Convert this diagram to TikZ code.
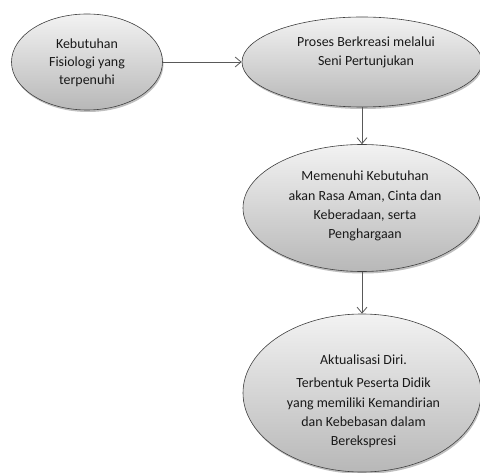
\documentclass[tikz,border=0pt]{standalone}
\usepackage{fontspec}
\setmainfont{Carlito}
\usetikzlibrary{shapes.geometric,arrows.meta,shadows}
\begin{document}
\begin{tikzpicture}[x=1bp,y=-1bp,
  bubble/.style={ellipse, draw=black!75, line width=0.6bp,
    top color=black!5, bottom color=black!28,
    drop shadow={shadow xshift=1bp, shadow yshift=-2bp, opacity=0.25, fill=black},
    inner sep=0pt},
  bubbletext/.style={inner sep=0pt, align=center, text=black!90,
    font=\fontsize{14}{19.3}\selectfont},
  link/.style={draw=black!65, line width=0.8bp, -{Straight Barb[length=6bp,width=10bp]}}]
\useasboundingbox (0,0) rectangle (480,473);
\node[bubble, minimum width=151bp, minimum height=96bp] (a) at (87,62) {};
\node[bubble, minimum width=240bp, minimum height=90bp] (b) at (362,62) {};
\node[bubble, minimum width=238bp, minimum height=127bp] (c) at (362,208) {};
\node[bubble, minimum width=238bp, minimum height=158bp] (d) at (362,393) {};
\node[bubbletext, font=\fontsize{14}{18}\selectfont] (at) at (87,63)
  {Kebutuhan\\Fisiologi yang\\terpenuhi};
\node[bubbletext] (bt) at (366,52.5)
  {Proses Berkreasi melalui\\Seni Pertunjukan};
\node[bubbletext] (ct) at (365,206)
  {Memenuhi Kebutuhan\\akan Rasa Aman, Cinta dan\\Keberadaan, serta\\Penghargaan};
\node[bubbletext] (dt) at (363.5,401.5)
  {Aktualisasi Diri.\\[3.7bp]Terbentuk Peserta Didik\\yang memiliki Kemandirian\\dan Kebebasan dalam\\Berekspresi};
\draw[link] (a.east) -- (b.west);
\draw[link] (b.south) -- (c.north);
\draw[link] (c.south) -- (d.north);
\end{tikzpicture}
\end{document}
